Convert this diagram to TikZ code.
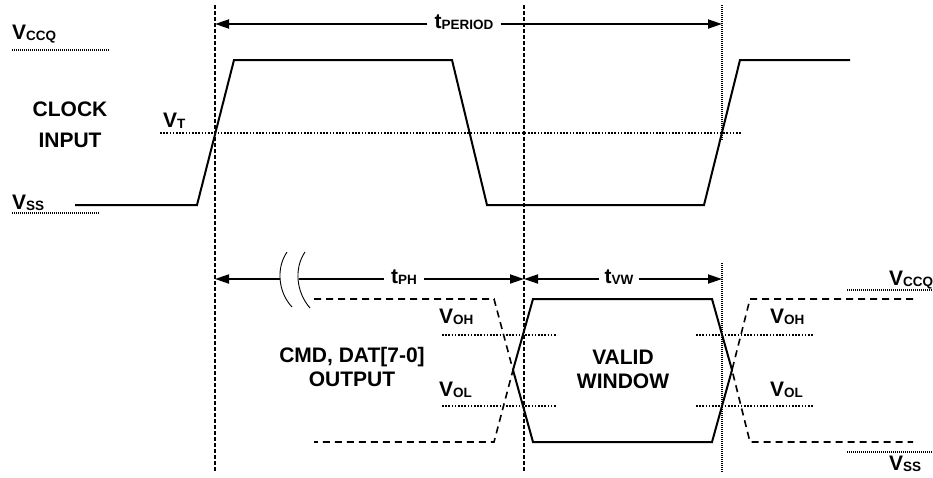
\documentclass[tikz,border=0pt]{standalone}
\usepackage{fontspec}
\setmainfont{Liberation Sans}
\usepackage{tikz}
\usetikzlibrary{arrows.meta}
\newcommand{\vsub}[2]{#1\raisebox{-1pt}{\fontsize{13.5}{14}\selectfont #2}}

\begin{document}
\begin{tikzpicture}[x=1pt,y=-1pt,font=\fontsize{21}{24}\selectfont\bfseries,
   lbl/.style={inner sep=0pt,anchor=base west},
   tlbl/.style={inner xsep=7pt,inner ysep=0pt,text height=8pt,text depth=0pt},
   sig/.style={line width=2pt},
   olddat/.style={line width=1.6pt,dash pattern=on 7pt off 5pt},
   vdash/.style={line width=1.5pt,dash pattern=on 4pt off 2pt},
   vdot/.style={line width=1.2pt,dash pattern=on 1pt off 1pt},
   lvl/.style={line width=1.7pt,dash pattern=on 1.6pt off 1.6pt},
   rail/.style={line width=1.1pt,dash pattern=on 1pt off 1pt},
   dim/.style={-{Triangle[length=14pt,width=9pt]},line width=1.8pt}]
  \useasboundingbox (0,0) rectangle (933,477);
  % time markers
  \coordinate (a1) at (215,5);   \coordinate (a2) at (215,472);
  \coordinate (b1) at (524,5);   \coordinate (b2) at (524,472);
  \coordinate (c1) at (722,5);   \coordinate (c2) at (722,140);
  \coordinate (c3) at (722,263); \coordinate (c4) at (722,472);
  \draw[vdash] (a1) -- (a2);
  \draw[vdash] (b1) -- (b2);
  \draw[vdot] (c1) -- (c2);
  \draw[vdot] (c3) -- (c4);
  % clock input
  \node[lbl] (vccq1) at (12,39) {\vsub{V}{CCQ}};
  \node[lbl] (vt) at (163,127) {\vsub{V}{T}};
  \node[lbl] (vss1) at (12,209) {\vsub{V}{SS}};
  \node[align=center] (clk) at (70,125) {CLOCK\\[7pt]INPUT};
  \draw[rail] (12,50) -- (110,50);
  \draw[rail] (12,213) -- (100,213);
  \draw[lvl] (160,133) -- (741,133);
  \draw[sig] (75,205) -- (197,205) -- (234,60) -- (452,60) -- (487,205)
     -- (704,205) -- (740,60) -- (850,60);
  % t period
  \coordinate (pa) at (215,24); \coordinate (pc) at (722,24);
  \node[tlbl] (tper) at (464,24) {\vsub{t}{PERIOD}};
  \draw[dim] (tper) -- (pa);
  \draw[dim] (tper) -- (pc);
  % t PH and t VW
  \coordinate (qa) at (215,279); \coordinate (qb) at (524,279); \coordinate (qc) at (722,279);
  \coordinate (brk1) at (280,279); \coordinate (brk2) at (299,279);
  \draw[line width=0.9pt] (287,252) .. controls (276,268) and (278,292) .. (292,307);
  \draw[line width=0.9pt] (305,252) .. controls (294,268) and (296,292) .. (310,308);
  \node[tlbl] (tph) at (404,279) {\vsub{t}{PH}};
  \node[tlbl,inner xsep=5pt] (tvw) at (619,279) {\vsub{t}{VW}};
  \draw[dim] (brk1) -- (qa);
  \draw[line width=1.8pt] (brk2) -- (tph);
  \draw[dim] (tph) -- (qb);
  \draw[dim] (tvw) -- (qb);
  \draw[dim] (tvw) -- (qc);
  % data output
  \node[align=center] (cmd) at (352,367) {CMD, DAT[7-0]\\OUTPUT};
  \node[align=center] (win) at (623,369) {VALID\\WINDOW};
  \node[lbl] (voh1) at (439,323) {\vsub{V}{OH}};
  \node[lbl] (vol1) at (439,396) {\vsub{V}{OL}};
  \node[lbl] (voh2) at (770,323) {\vsub{V}{OH}};
  \node[lbl] (vol2) at (770,396) {\vsub{V}{OL}};
  \node[lbl] (vccq2) at (889,285) {\vsub{V}{CCQ}};
  \node[lbl] (vss2) at (889,470) {\vsub{V}{SS}};
  \draw[lvl] (442,335) -- (556,335);
  \draw[lvl] (442,406) -- (556,406);
  \draw[lvl] (696,335) -- (814,335);
  \draw[lvl] (696,406) -- (814,406);
  \draw[rail] (847,290) -- (933,290);
  \draw[rail] (847,452) -- (933,452);
  \draw[olddat] (314,299) -- (494,299) -- (513,370) -- (494,442) -- (314,442);
  \draw[olddat] (913,299) -- (750,299) -- (732,370) -- (750,442) -- (913,442);
  \draw[sig] (533,299) -- (712,299) -- (732,370) -- (712,442) -- (533,442) -- (513,370) -- cycle;
\end{tikzpicture}
\end{document}
